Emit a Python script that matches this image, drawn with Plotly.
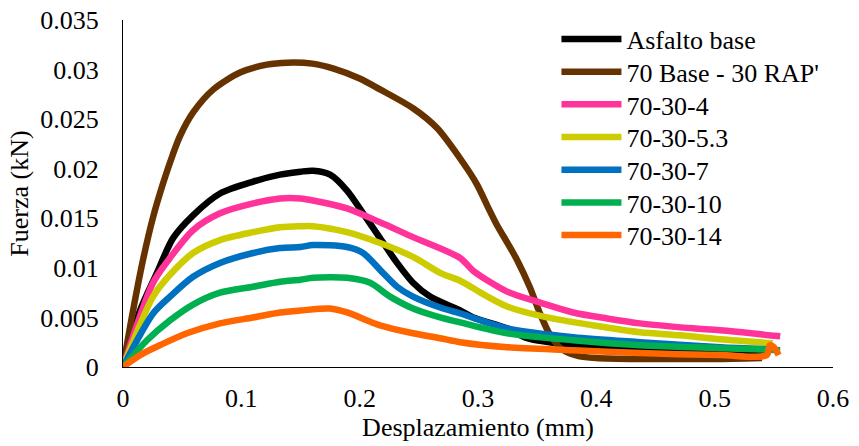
import plotly.graph_objects as go

# ---- data ----
series_names = ["Asfalto base", "70 Base - 30 RAP'", "70-30-4", "70-30-5.3",
                "70-30-7", "70-30-10", "70-30-14"]
series_colors = ["#000000", "#663300", "#ff3399", "#cccc00",
                 "#0070c0", "#00b050", "#ff6600"]

black_x = [0, 0.0144, 0.0287, 0.0423, 0.0592, 0.082, 0.110, 0.1327, 0.150, 0.1606, 0.175, 0.1893,
           0.2029, 0.2172, 0.2316, 0.2451, 0.2595, 0.2849, 0.296, 0.3246, 0.3415, 0.38, 0.42,
           0.47, 0.50, 0.545]
black_y = [0, 0.0057, 0.0095, 0.0130, 0.0153, 0.0175, 0.0187, 0.0194, 0.0197, 0.0198, 0.0194,
           0.0178, 0.0155, 0.0130, 0.0105, 0.0085, 0.0071, 0.0057, 0.0050, 0.0039, 0.0029,
           0.0022, 0.0019, 0.0017, 0.0016, 0.0015]

brown_x = [0, 0.0085, 0.0169, 0.0254, 0.0338, 0.042, 0.0482, 0.0594, 0.0764, 0.0989, 0.1215,
           0.139, 0.160, 0.178, 0.200, 0.2172, 0.2451, 0.2654, 0.2874, 0.2992, 0.3077, 0.3161,
           0.325, 0.333, 0.344, 0.352, 0.362, 0.372, 0.385, 0.400, 0.437, 0.47, 0.50, 0.54]
brown_y = [0, 0.0057, 0.0108, 0.0151, 0.0185, 0.0214, 0.0233, 0.0257, 0.0280, 0.0297, 0.0305,
           0.0307, 0.0306, 0.0301, 0.0291, 0.0280, 0.0261, 0.0241, 0.0206, 0.0184, 0.0163,
           0.0143, 0.0125, 0.0108, 0.0080, 0.0055, 0.0030, 0.0017, 0.0011, 0.0009, 0.0008,
           0.0008, 0.0008, 0.0009]

pink_x = [0, 0.0254, 0.0397, 0.0592, 0.082, 0.110, 0.1327, 0.150, 0.1606, 0.1893, 0.2172, 0.2451,
          0.2849, 0.2960, 0.3246, 0.3525, 0.3804, 0.4091, 0.437, 0.4818, 0.5047, 0.5554]
pink_y = [0, 0.0085, 0.0110, 0.0138, 0.0155, 0.0165, 0.0170, 0.0170, 0.0168, 0.0160, 0.0146,
          0.0131, 0.0110, 0.0097, 0.0076, 0.0065, 0.0055, 0.0049, 0.0044, 0.0039, 0.0037, 0.0031]

yellow_x = [0, 0.0254, 0.0397, 0.0592, 0.082, 0.110, 0.1327, 0.150, 0.1606, 0.1893, 0.2172,
            0.2451, 0.268, 0.2849, 0.3050, 0.3246, 0.3584, 0.3973, 0.437, 0.4708, 0.5047, 0.549]
yellow_y = [0, 0.0071, 0.0093, 0.0115, 0.0128, 0.0136, 0.0141, 0.0142, 0.0142, 0.0136, 0.0125,
            0.0111, 0.0095, 0.0087, 0.0073, 0.0061, 0.0050, 0.0042, 0.0035, 0.0032, 0.0028, 0.0024]

blue_x = [0, 0.0254, 0.0397, 0.0592, 0.082, 0.110, 0.1327, 0.150, 0.1606, 0.1893, 0.2029, 0.2172,
          0.2316, 0.2451, 0.268, 0.2849, 0.3246, 0.3804, 0.437, 0.5047, 0.545]
blue_y = [0, 0.0054, 0.0071, 0.0091, 0.0105, 0.0115, 0.0120, 0.0121, 0.0123, 0.0121, 0.0115,
          0.0098, 0.0081, 0.0071, 0.0060, 0.0054, 0.0039, 0.0030, 0.0025, 0.0020, 0.0018]

green_x = [0, 0.0203, 0.0397, 0.0592, 0.082, 0.110, 0.1327, 0.150, 0.1606, 0.1893, 0.2088, 0.2257,
           0.2451, 0.268, 0.2849, 0.3246, 0.3804, 0.437, 0.5047, 0.5554]
green_y = [0, 0.0027, 0.0047, 0.0063, 0.0075, 0.0081, 0.0086, 0.0088, 0.0090, 0.0090, 0.0085,
           0.0071, 0.0059, 0.0050, 0.0045, 0.0034, 0.0027, 0.0022, 0.0019, 0.0017]

orange_x = [0, 0.0144, 0.0313, 0.054, 0.082, 0.110, 0.1327, 0.150, 0.175, 0.1893, 0.2172, 0.2451,
            0.268, 0.2849, 0.3246, 0.3804, 0.437, 0.5047, 0.5440, 0.5465, 0.5500, 0.5540]
orange_y = [0, 0.0012, 0.0022, 0.0034, 0.0044, 0.0050, 0.0055, 0.0057, 0.0059, 0.0055, 0.0042,
            0.0034, 0.0029, 0.0025, 0.0020, 0.0017, 0.0014, 0.0012, 0.0012, 0.0022, 0.0020, 0.0012]

x_tick_vals = [0, 0.1, 0.2, 0.3, 0.4, 0.5, 0.6]
x_tick_text = ["0", "0.1", "0.2", "0.3", "0.4", "0.5", "0.6"]
y_tick_vals = [0, 0.005, 0.01, 0.015, 0.02, 0.025, 0.03, 0.035]
y_tick_text = ["0", "0.005", "0.01", "0.015", "0.02", "0.025", "0.03", "0.035"]

xs = [black_x, brown_x, pink_x, yellow_x, blue_x, green_x, orange_x]
ys = [black_y, brown_y, pink_y, yellow_y, blue_y, green_y, orange_y]

FONT = "Liberation Serif"
FS = 26

# one legend per entry so that row spacing matches the reference
legend_row_top = 0.945     # paper y of first row
legend_row_step = 0.0942   # paper spacing between rows

fig = go.Figure()
legend_layouts = {}
for i, (name, color, x, y) in enumerate(zip(series_names, series_colors, xs, ys)):
    lkey = "legend" if i == 0 else f"legend{i + 1}"
    fig.add_trace(go.Scatter(
        x=x, y=y, name=name, mode="lines",
        line=dict(color=color, width=6.5, shape="spline", smoothing=0.8),
        legend=lkey,
    ))
    legend_layouts[lkey] = dict(
        x=0.6105, y=legend_row_top - i * legend_row_step,
        xanchor="left", yanchor="middle",
        bgcolor="rgba(0,0,0,0)", font=dict(size=FS, family=FONT, color="black"),
        itemwidth=60,
    )

fig.update_layout(
    width=859, height=446,
    margin=dict(l=123, r=26, t=20, b=79, autoexpand=False),
    paper_bgcolor="white", plot_bgcolor="white",
    font=dict(family=FONT, size=FS, color="black"),
    showlegend=True,
    xaxis=dict(range=[0, 0.6], tickvals=x_tick_vals, ticktext=x_tick_text,
               showgrid=False, zeroline=False, showline=True, linecolor="black",
               linewidth=1.3, ticks="", ticklabelstandoff=8,
               tickfont=dict(size=FS, family=FONT),
               title=dict(text="Desplazamiento (mm)", font=dict(size=FS, family=FONT),
                          standoff=2)),
    yaxis=dict(range=[0, 0.035], tickvals=y_tick_vals, ticktext=y_tick_text,
               showgrid=False, zeroline=False, showline=True, linecolor="black",
               linewidth=1.3, ticks="", ticklabelstandoff=18,
               tickfont=dict(size=FS, family=FONT),
               title=dict(text="Fuerza (kN)", font=dict(size=FS, family=FONT),
                          standoff=4)),
    **legend_layouts,
)

fig.write_html("out.html")
